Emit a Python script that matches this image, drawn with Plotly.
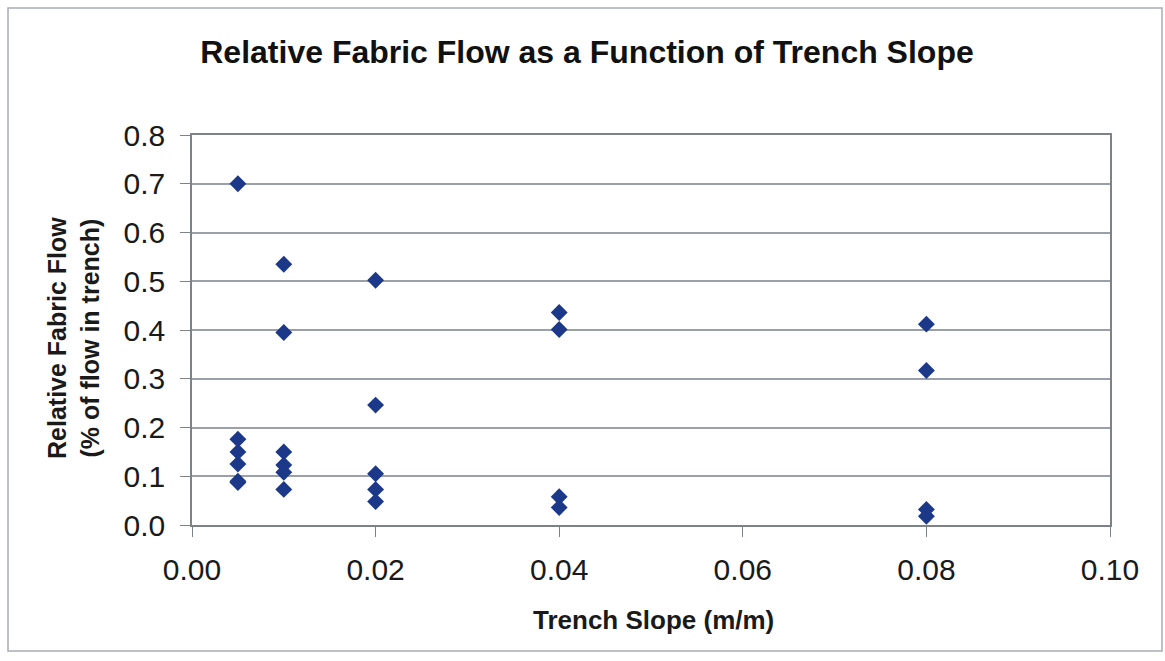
import plotly.graph_objects as go

# Trench slope (m/m) and relative fabric flow measured at each slope
slope = [0.005, 0.005, 0.005, 0.005, 0.005, 0.005,
         0.01, 0.01, 0.01, 0.01, 0.01, 0.01,
         0.02, 0.02, 0.02, 0.02, 0.02,
         0.04, 0.04, 0.04, 0.04,
         0.08, 0.08, 0.08, 0.08]
rel_flow = [0.700, 0.176, 0.150, 0.125, 0.090, 0.087,
            0.535, 0.395, 0.150, 0.123, 0.108, 0.073,
            0.502, 0.246, 0.105, 0.073, 0.048,
            0.436, 0.401, 0.058, 0.036,
            0.412, 0.317, 0.032, 0.018]

x_ticks = [0.00, 0.02, 0.04, 0.06, 0.08, 0.10]
x_tick_text = ["0.00", "0.02", "0.04", "0.06", "0.08", "0.10"]
y_ticks = [0.0, 0.1, 0.2, 0.3, 0.4, 0.5, 0.6, 0.7, 0.8]
y_tick_text = ["0.0", "0.1", "0.2", "0.3", "0.4", "0.5", "0.6", "0.7", "0.8"]

W, H = 1165, 661
L, R, T, B = 192, 1110, 135, 525  # plot-area pixel edges
FONT = "Liberation Sans, Arial, sans-serif"


def px_to_paper_x(px):
    return (px - L) / (R - L)


def px_to_paper_y(py):
    return (B - py) / (B - T)


fig = go.Figure()
fig.add_trace(go.Scatter(
    x=slope, y=rel_flow, mode="markers",
    marker=dict(symbol="diamond", size=13, color="#1c3888",
                line=dict(width=0)),
    showlegend=False,
))

line_col = "#7d828a"
grid_col = "#9aa0aa"

fig.update_layout(
    width=W, height=H,
    margin=dict(l=L, r=W - R, t=T, b=H - B),
    paper_bgcolor="white", plot_bgcolor="white",
    title=dict(text="<b>Relative Fabric Flow as a Function of Trench Slope</b>",
               x=587 / W, xanchor="center", y=1 - 52 / H, yanchor="middle",
               font=dict(family=FONT, size=32, color="#111111")),
    xaxis=dict(range=[0, 0.10], tickvals=x_ticks, ticktext=x_tick_text,
               showgrid=False, zeroline=False,
               showline=True, linecolor=line_col, linewidth=1.5, mirror=True,
               ticks="outside", ticklen=10, tickcolor=line_col, tickwidth=1,
               ticklabelstandoff=7,
               tickfont=dict(family=FONT, size=30, color="#1a1a1a")),
    yaxis=dict(range=[0, 0.8], tickvals=y_ticks, ticktext=y_tick_text,
               showgrid=True, gridcolor=grid_col, gridwidth=1.5, zeroline=False,
               showline=True, linecolor=line_col, linewidth=1.5, mirror=True,
               ticks="outside", ticklen=10, tickcolor=line_col, tickwidth=1,
               ticklabelstandoff=9,
               tickfont=dict(family=FONT, size=30, color="#1a1a1a")),
    annotations=[
        dict(text="<b>Trench Slope (m/m)</b>", xref="paper", yref="paper",
             x=px_to_paper_x(653), y=px_to_paper_y(620), xanchor="center", yanchor="middle",
             showarrow=False,
             font=dict(family=FONT, size=26, color="#1a1a1a")),
        dict(text="<b>Relative Fabric Flow<br>(% of flow in trench)</b>",
             xref="paper", yref="paper",
             x=px_to_paper_x(73), y=px_to_paper_y(338), xanchor="center", yanchor="middle",
             textangle=-90, showarrow=False,
             font=dict(family=FONT, size=25, color="#1a1a1a")),
    ],
    shapes=[
        dict(type="rect", xref="paper", yref="paper",
             x0=px_to_paper_x(8), x1=px_to_paper_x(1162),
             y0=px_to_paper_y(651), y1=px_to_paper_y(8),
             line=dict(color="#a8adb5", width=1.5), fillcolor="rgba(0,0,0,0)",
             layer="below"),
    ],
)

fig.write_html("out.html")
